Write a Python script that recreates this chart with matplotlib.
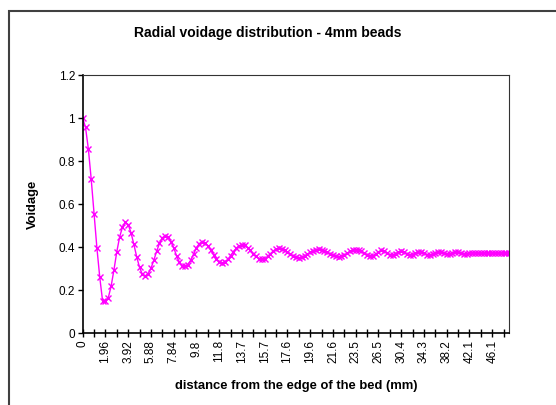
import matplotlib.pyplot as plt
import matplotlib.patches as patches
import numpy as np

plt.rcParams['font.family'] = ['Liberation Sans', 'DejaVu Sans']

# voidage, one value per category (151 points)
voidage = [
    1.000, 0.957, 0.856, 0.716, 0.555, 0.397, 0.261, 0.150, 0.152, 0.165,
    0.219, 0.295, 0.379, 0.448, 0.494, 0.515, 0.505, 0.467, 0.413, 0.355,
    0.306, 0.274, 0.267, 0.276, 0.302, 0.339, 0.381, 0.418, 0.444, 0.453,
    0.446, 0.426, 0.398, 0.360, 0.330, 0.314, 0.311, 0.319, 0.340, 0.368,
    0.397, 0.417, 0.425, 0.420, 0.407, 0.387, 0.366, 0.346, 0.333, 0.328,
    0.332, 0.344, 0.360, 0.379, 0.395, 0.407, 0.411, 0.408, 0.398, 0.385,
    0.370, 0.357, 0.347, 0.344, 0.347, 0.357, 0.370, 0.382, 0.392, 0.395,
    0.393, 0.387, 0.378, 0.369, 0.360, 0.354, 0.352, 0.354, 0.359, 0.367,
    0.376, 0.384, 0.389, 0.391, 0.389, 0.384, 0.377, 0.369, 0.362, 0.357,
    0.355, 0.357, 0.364, 0.372, 0.381, 0.387, 0.389, 0.387, 0.381, 0.373,
    0.366, 0.361, 0.361, 0.368, 0.378, 0.385, 0.384, 0.375, 0.365, 0.364,
    0.370, 0.378, 0.382, 0.378, 0.369, 0.364, 0.366, 0.374, 0.380, 0.380,
    0.374, 0.366, 0.363, 0.368, 0.375, 0.379, 0.377, 0.371, 0.367, 0.368,
    0.373, 0.376, 0.376, 0.372, 0.369, 0.370, 0.373, 0.375, 0.374, 0.372,
    0.371, 0.372, 0.374, 0.374, 0.373, 0.372, 0.373, 0.374, 0.374, 0.373,
    0.373,
]

# category labels shown on the axis (every 8th category)
xLabels = ['0', '1.96', '3.92', '5.88', '7.84', '9.8', '11.8', '13.7', '15.7', '17.6',
           '19.6', '21.6', '23.5', '26.5', '30.4', '34.3', '38.2', '42.1', '46.1']
yTicks = [0, 0.2, 0.4, 0.6, 0.8, 1, 1.2]
yLabels = ['0', '0.2', '0.4', '0.6', '0.8', '1', '1.2']

title = 'Radial voidage distribution - 4mm beads'
xLabel = 'distance from the edge of the bed (mm)'
yLabel = 'Voidage'

fig = plt.figure(figsize=(5.56, 4.05), dpi=100)
ax = fig.add_axes([0.1487, 0.177, 0.7673, 0.6378])

cats = np.arange(len(voidage))
ax.plot(cats, voidage, color='#FF00FF', lw=1.0, marker='x', ms=4.5, mew=1.0)

ax.set_xlim(0, len(voidage) - 1)
ax.set_ylim(0, 1.2)
ax.set_yticks(yTicks)
ax.set_yticklabels(yLabels, fontsize=8.5)
ax.set_xticks(cats[::8][:len(xLabels)])
ax.set_xticklabels(xLabels, fontsize=8.5, rotation=90)
ax.set_xticks(cats[::4], minor=True)
ax.tick_params(axis='x', which='both', direction='inout', length=6, width=1, pad=2)
ax.tick_params(axis='y', direction='out', length=3.5, width=1, pad=2)

for side in ['left', 'bottom']:
    ax.spines[side].set_linewidth(1.2)
for side in ['top', 'right']:
    ax.spines[side].set_linewidth(0.8)
    ax.spines[side].set_color('#333333')

fig.text(268 / 556, 1 - 33 / 405, title, ha='center', va='center', fontsize=10, fontweight='bold')
fig.text(296 / 556, 1 - 386 / 405, xLabel, ha='center', va='center', fontsize=9.4, fontweight='bold')
fig.text(33 / 556, 1 - 204 / 405, yLabel, ha='center', va='center', rotation=90, fontsize=9.4, fontweight='bold')

# chart area border, runs off the right and bottom edge
fig.patches.append(patches.Rectangle((9 / 556, -0.2), 1.0, 1.2 - 11 / 405, transform=fig.transFigure,
                                     fill=False, edgecolor='#404040', lw=1.5))

fig.savefig('out.png', dpi=100)
